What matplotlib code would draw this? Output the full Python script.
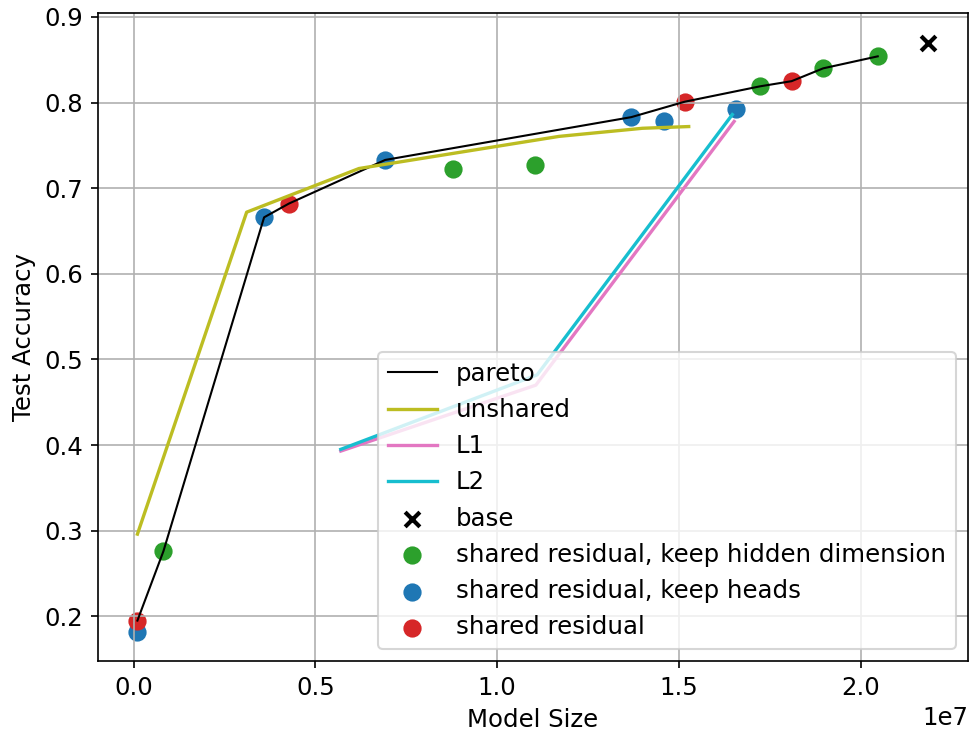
import numpy as np
import matplotlib
matplotlib.use("Agg")
import matplotlib.pyplot as plt

# data (model size in units of 1e7)
pareto_x = [0.0105, 0.082, 0.359, 0.427, 0.692, 1.369, 1.516, 1.7235, 1.81, 1.897, 2.047]
pareto_y = [0.195, 0.276, 0.666, 0.682, 0.733, 0.783, 0.801, 0.819, 0.825, 0.840, 0.854]

unshared_x = [0.0105, 0.311, 0.620, 1.170, 1.400, 1.527]
unshared_y = [0.296, 0.672, 0.723, 0.7605, 0.770, 0.772]

l1_x = [0.570, 1.1065, 1.652]
l1_y = [0.393, 0.470, 0.778]
l2_x = [0.570, 1.110, 1.647]
l2_y = [0.395, 0.482, 0.786]

base_x = [2.1866]
base_y = [0.870]

hidden_x = [0.082, 0.879, 1.1045, 1.7235, 1.897, 2.047]
hidden_y = [0.276, 0.722, 0.727, 0.819, 0.840, 0.854]

heads_x = [0.0105, 0.359, 0.692, 1.369, 1.460, 1.6575]
heads_y = [0.182, 0.666, 0.733, 0.783, 0.779, 0.793]

resid_x = [0.0105, 0.427, 1.516, 1.81]
resid_y = [0.195, 0.682, 0.801, 0.825]

scale = 1e7

plt.rcParams['font.size'] = 11.7

fig = plt.figure(figsize=(9.69 / 1.5, 7.33 / 1.5), dpi=150)
ax = fig.add_subplot(111)
fig.subplots_adjust(left=0.101, right=0.999, top=0.982, bottom=0.098)

ax.plot(np.array(pareto_x) * scale, pareto_y, color='black', linewidth=1, label='pareto')
ax.plot(np.array(unshared_x) * scale, unshared_y, color='tab:olive', linewidth=1.6, label='unshared')
ax.plot(np.array(l1_x) * scale, l1_y, color='tab:pink', linewidth=1.6, label='L1')
ax.plot(np.array(l2_x) * scale, l2_y, color='tab:cyan', linewidth=1.6, label='L2')

ax.scatter(np.array(base_x) * scale, base_y, marker='x', color='black', s=50, linewidths=2, label='base')
ax.scatter(np.array(hidden_x) * scale, hidden_y, color='tab:green', s=60,
           label='shared residual, keep hidden dimension')
ax.scatter(np.array(heads_x) * scale, heads_y, color='tab:blue', s=60,
           label='shared residual, keep heads')
ax.scatter(np.array(resid_x) * scale, resid_y, color='tab:red', s=60, label='shared residual')

ax.grid(True)
ax.set_xlabel('Model Size')
ax.set_ylabel('Test Accuracy')
ax.legend(loc='lower right')

fig.savefig('out.png', dpi=150)
